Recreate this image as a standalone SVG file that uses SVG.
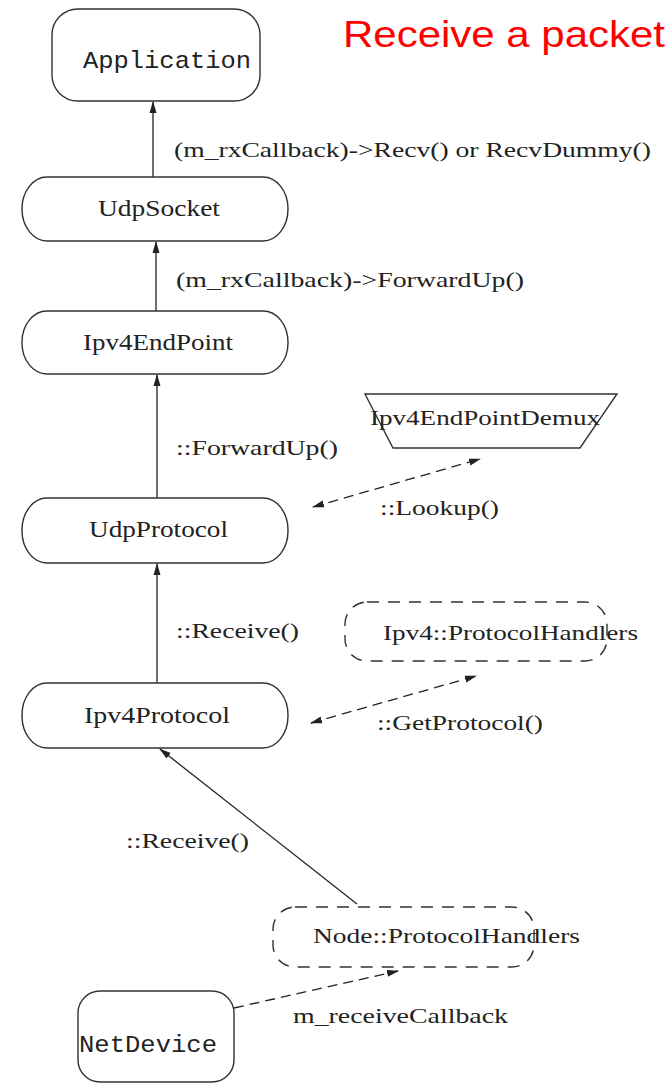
<svg xmlns="http://www.w3.org/2000/svg" width="667" height="1083" viewBox="0 0 667 1083">
<defs>
<marker id="ah" markerUnits="userSpaceOnUse" markerWidth="12" markerHeight="10" viewBox="0 0 12 10" refX="11" refY="5" orient="auto-start-reverse">
<path d="M0,1.5 L12,5 L0,8.5 Z" fill="#222"/>
</marker>
</defs>
<style>
.node{fill:#fff;stroke:#333;stroke-width:1.4}
.dnode{fill:none;stroke:#333;stroke-width:1.4;stroke-dasharray:12 9}
.edge{fill:none;stroke:#222;stroke-width:1.3}
.dedge{fill:none;stroke:#222;stroke-width:1.3;stroke-dasharray:10 6}
.serif{font-family:"Liberation Serif","Times New Roman",serif;fill:#222}
.lbl{font-size:22px}
.nt{font-size:24px}
.mono{font-family:"Liberation Mono","Courier New",monospace;font-size:24px;fill:#222}
.title{font-family:"Liberation Sans",Arial,sans-serif;font-size:37px;fill:#ff0000}
</style>
<rect width="667" height="1083" fill="#fff"/>
<text class="title" x="343" y="47" textLength="322" lengthAdjust="spacingAndGlyphs">Receive a packet</text>

<g id="connectors">
<line class="edge" x1="153" y1="177" x2="153" y2="102" marker-end="url(#ah)"/>
<line class="edge" x1="156" y1="311" x2="156" y2="242" marker-end="url(#ah)"/>
<line class="edge" x1="157" y1="498" x2="157" y2="375" marker-end="url(#ah)"/>
<line class="edge" x1="157" y1="683" x2="157" y2="564" marker-end="url(#ah)"/>
<line class="edge" x1="357" y1="904" x2="160" y2="749" marker-end="url(#ah)"/>
<line class="dedge" x1="313" y1="507" x2="480" y2="459" marker-start="url(#ah)" marker-end="url(#ah)"/>
<line class="dedge" x1="311" y1="723" x2="476" y2="676" marker-start="url(#ah)" marker-end="url(#ah)"/>
<line class="dedge" x1="234" y1="1008" x2="398" y2="971" marker-end="url(#ah)"/>
<text class="serif lbl" x="174" y="157" textLength="477" lengthAdjust="spacingAndGlyphs">(m_rxCallback)-&gt;Recv() or RecvDummy()</text>
<text class="serif lbl" x="176" y="287" textLength="348" lengthAdjust="spacingAndGlyphs">(m_rxCallback)-&gt;ForwardUp()</text>
<text class="serif lbl" x="176" y="455" textLength="162" lengthAdjust="spacingAndGlyphs">::ForwardUp()</text>
<text class="serif lbl" x="380" y="515" textLength="119" lengthAdjust="spacingAndGlyphs">::Lookup()</text>
<text class="serif lbl" x="176" y="638" textLength="123" lengthAdjust="spacingAndGlyphs">::Receive()</text>
<text class="serif lbl" x="377" y="730" textLength="166" lengthAdjust="spacingAndGlyphs">::GetProtocol()</text>
<text class="serif lbl" x="126" y="848" textLength="123" lengthAdjust="spacingAndGlyphs">::Receive()</text>
<text class="serif lbl" x="293" y="1023" textLength="215" lengthAdjust="spacingAndGlyphs">m_receiveCallback</text>
</g>

<g id="Application">
<rect class="node" x="52" y="9" width="208" height="92" rx="26" ry="26"/>
<text class="mono" x="83" y="68" textLength="168" lengthAdjust="spacingAndGlyphs">Application</text>
</g>
<g id="UdpSocket">
<rect class="node" x="22" y="177" width="266" height="64" rx="25" ry="32"/>
<text class="serif nt" x="98" y="216" textLength="122" lengthAdjust="spacingAndGlyphs">UdpSocket</text>
</g>
<g id="Ipv4EndPoint">
<rect class="node" x="22" y="311" width="266" height="63" rx="25" ry="31"/>
<text class="serif nt" x="83" y="350" textLength="150" lengthAdjust="spacingAndGlyphs">Ipv4EndPoint</text>
</g>
<g id="Ipv4EndPointDemux">
<path class="node" d="M365,394 L617,394 L580,448 L393,448 Z"/>
<text class="serif lbl" x="370" y="425" textLength="230" lengthAdjust="spacingAndGlyphs">Ipv4EndPointDemux</text>
</g>
<g id="UdpProtocol">
<rect class="node" x="22" y="498" width="266" height="65" rx="25" ry="32"/>
<text class="serif nt" x="89" y="537" textLength="139" lengthAdjust="spacingAndGlyphs">UdpProtocol</text>
</g>
<g id="Ipv4ProtocolHandlers">
<rect class="dnode" x="345" y="602" width="262" height="59" rx="22" ry="22"/>
<text class="serif lbl" x="383" y="640" textLength="255" lengthAdjust="spacingAndGlyphs">Ipv4::ProtocolHandlers</text>
</g>
<g id="Ipv4Protocol">
<rect class="node" x="22" y="683" width="266" height="65" rx="25" ry="32"/>
<text class="serif nt" x="84" y="723" textLength="146" lengthAdjust="spacingAndGlyphs">Ipv4Protocol</text>
</g>
<g id="NodeProtocolHandlers">
<rect class="dnode" x="273" y="907" width="261" height="60" rx="22" ry="22"/>
<text class="serif lbl" x="313" y="943" textLength="267" lengthAdjust="spacingAndGlyphs">Node::ProtocolHandlers</text>
</g>
<g id="NetDevice">
<rect class="node" x="78" y="991" width="156" height="91" rx="22" ry="22"/>
<text class="mono" x="79" y="1052" textLength="138" lengthAdjust="spacingAndGlyphs">NetDevice</text>
</g>
</svg>
